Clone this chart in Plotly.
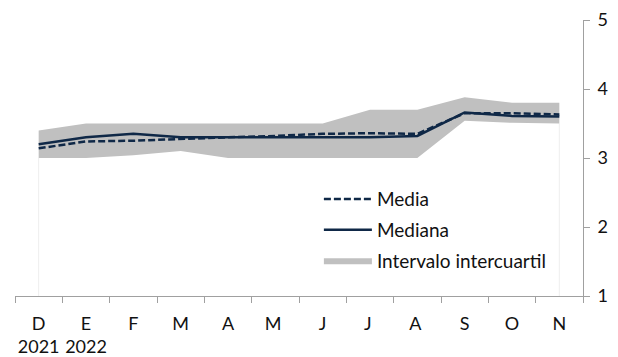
import plotly.graph_objects as go

months = ["D<br>2021", "E<br>2022", "F", "M", "A", "M ", "J", "J ", "A ", "S", "O", "N"]
media = [3.14, 3.24, 3.25, 3.28, 3.30, 3.32, 3.35, 3.36, 3.35, 3.65, 3.65, 3.63]
mediana = [3.20, 3.30, 3.35, 3.30, 3.30, 3.30, 3.30, 3.30, 3.32, 3.66, 3.61, 3.60]
q_low = [3.00, 3.00, 3.04, 3.10, 3.00, 3.00, 3.00, 3.00, 3.00, 3.54, 3.51, 3.50]
q_high = [3.40, 3.50, 3.50, 3.50, 3.50, 3.50, 3.50, 3.70, 3.70, 3.88, 3.80, 3.80]

navy = "#0f2847"
band = "#c0c0c0"
font = "Lato"

fig = go.Figure()
# faint edges of the transparent lower area
fig.add_trace(go.Scatter(
    x=[months[0], months[0], None, months[-1], months[-1]],
    y=[1, q_low[0], None, 1, q_low[-1]],
    mode="lines", line=dict(color="#eeeeee", width=1),
    showlegend=False, hoverinfo="skip"))
fig.add_trace(go.Scatter(x=months, y=q_low, mode="lines", line=dict(width=0),
                         showlegend=False, hoverinfo="skip"))
fig.add_trace(go.Scatter(x=months, y=q_high, mode="lines", line=dict(width=0),
                         fill="tonexty", fillcolor=band,
                         name="Intervalo intercuartil", legendgroup="c", legendrank=3))
fig.add_trace(go.Scatter(x=months, y=mediana, mode="lines",
                         line=dict(color=navy, width=2.5),
                         name="Mediana", legendgroup="b", legendrank=2))
fig.add_trace(go.Scatter(x=months, y=media, mode="lines",
                         line=dict(color=navy, width=2.5, dash="7px,3px"),
                         name="Media", legendgroup="a", legendrank=1))

fig.update_layout(
    width=618, height=357,
    margin=dict(l=7, r=43, t=12, b=69),
    paper_bgcolor="white", plot_bgcolor="white",
    font=dict(family=font, size=18, color="#111111"),
    showlegend=True,
    legend=dict(x=0.535, y=0.42, xanchor="left", yanchor="top",
                bgcolor="rgba(0,0,0,0)", font=dict(size=19),
                itemwidth=48, tracegroupgap=3, traceorder="grouped"),
    xaxis=dict(type="category", categoryorder="array", categoryarray=months,
               range=[-0.5, 11.5], showgrid=False, showline=True,
               linecolor="#a0a0a0", linewidth=1, ticks="outside",
               tickson="boundaries", ticklen=6, tickcolor="#a0a0a0",
               ticklabelstandoff=11, automargin=False, tickangle=0,
               tickfont=dict(size=18), fixedrange=True),
    yaxis=dict(side="right", range=[1, 5], dtick=1, showgrid=False,
               showline=True, linecolor="#a0a0a0", linewidth=1,
               ticks="outside", ticklen=6, tickcolor="#a0a0a0",
               ticklabelstandoff=4, automargin=False,
               tickfont=dict(size=18), zeroline=False),
)

fig.write_html("out.html")
